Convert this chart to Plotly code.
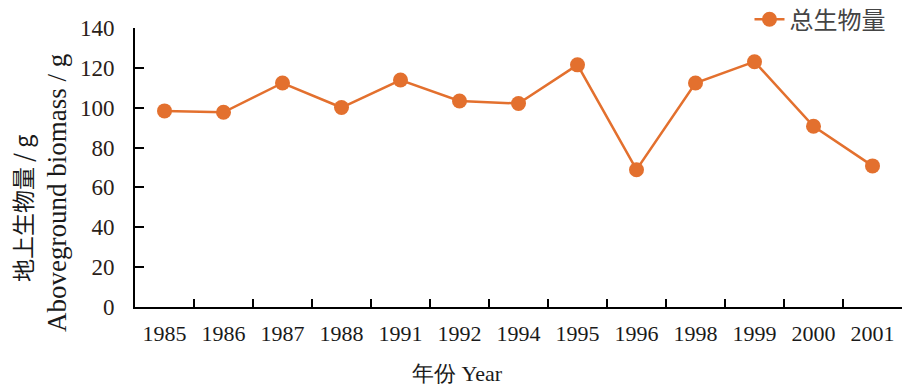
import plotly.graph_objects as go

years = ["1985", "1986", "1987", "1988", "1991", "1992", "1994", "1995",
         "1996", "1998", "1999", "2000", "2001"]
biomass = [98.4, 97.7, 112.4, 100.1, 113.9, 103.4, 102.1, 121.5,
           68.9, 112.4, 123.1, 90.7, 70.8]
series_name = "总生物量"
y_ticks = [0, 20, 40, 60, 80, 100, 120, 140]

ORANGE = "#E3702E"
SERIF = "Liberation Serif, Times New Roman, serif"
CJK = "Noto Sans CJK SC, sans-serif"

fig = go.Figure()
fig.add_trace(go.Scatter(
    x=years, y=biomass, name=series_name, mode="lines+markers",
    line=dict(color=ORANGE, width=2.5),
    marker=dict(color=ORANGE, size=15),
))

fig.update_layout(
    width=909, height=389,
    margin=dict(l=135, r=7, t=28, b=82, autoexpand=False),
    paper_bgcolor="white", plot_bgcolor="white",
    showlegend=True,
    legend=dict(x=0.985, y=1.03, xanchor="right", yanchor="middle",
                bgcolor="rgba(0,0,0,0)",
                font=dict(family=CJK, size=24, color="#444444")),
    xaxis=dict(
        type="category", range=[-0.5, 12.5],
        showline=True, linecolor="black", linewidth=2,
        ticks="inside", tickson="boundaries", ticklen=8, tickwidth=1.5,
        tickcolor="black", showgrid=False, zeroline=False,
        tickfont=dict(family=SERIF, size=22, color="#1a1a1a"),
        ticklabelstandoff=6,
    ),
    yaxis=dict(
        range=[0, 140], tickvals=y_ticks,
        showline=True, linecolor="black", linewidth=2,
        ticks="inside", ticklen=9, tickwidth=1.5, tickcolor="black",
        showgrid=False, zeroline=False,
        tickfont=dict(family=SERIF, size=23, color="#2a2018"),
        ticklabelstandoff=14,
    ),
    annotations=[
        dict(text="Aboveground biomass / g", xref="paper", yref="paper",
             x=-0.1017, y=0.409, xanchor="center", yanchor="middle",
             textangle=-90, showarrow=False,
             font=dict(family=SERIF, size=27, color="#1a1a1a")),
        dict(text="地上生物量 / g", xref="paper", yref="paper",
             x=-0.1473, y=0.351, xanchor="center", yanchor="middle",
             textangle=-90, showarrow=False,
             font=dict(family=CJK, size=23, color="#1a1a1a")),
        dict(text="年份 Year", xref="paper", yref="paper",
             x=0.421, y=-0.2366, xanchor="center", yanchor="middle",
             showarrow=False,
             font=dict(family=SERIF, size=22, color="#1a1a1a")),
    ],
)

fig.write_html("out.html", config={"displayModeBar": False},
               post_script="document.body.style.margin='0';")
